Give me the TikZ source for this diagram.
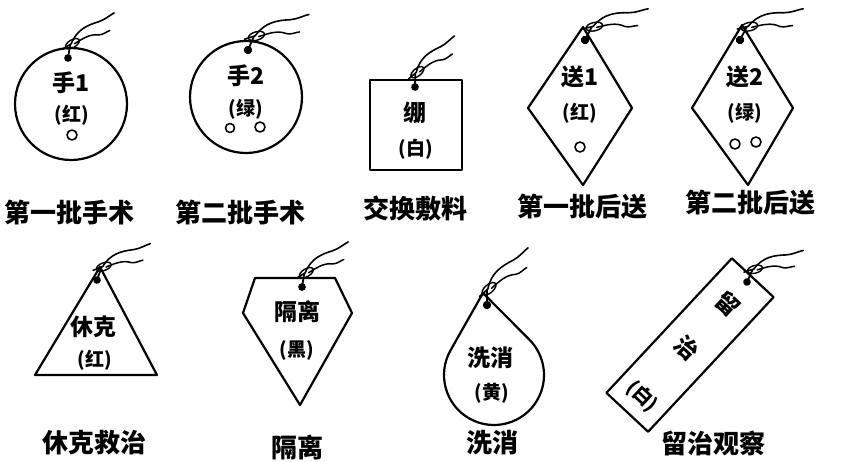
\documentclass[tikz,border=0pt]{standalone}
\usepackage{fontspec}
\newfontfamily\cjk{Noto Sans CJK SC}

\begin{document}
\begin{tikzpicture}[x=1pt,y=1pt,line join=round,line cap=round]
  \tikzset{tag/.style={line width=2.2pt},
    big/.style={font=\cjk\bfseries\fontsize{23}{23}\selectfont,inner sep=0pt},
    small/.style={font=\cjk\bfseries\fontsize{19}{19}\selectfont,inner sep=0pt},
    caption/.style={font=\cjk\bfseries\fontsize{26}{26}\selectfont,inner sep=0pt},
    hole/.style={line width=1.6pt},
    cord/.pic={
      \fill (0,0) circle[radius=3.5];
      \draw[line width=1.8pt] (0,0) -- (2,12);
      \draw[line width=1.4pt,rotate around={30:(4,13)}] (4,13) ellipse[x radius=7,y radius=3.5];
      \draw[line width=1.6pt] (-5,8) -- (3,13) .. controls (8,26) and (18,30) .. (28,33) .. controls (34,35) and (38,39) .. (42,41);
      \draw[line width=1.5pt] (6,13) .. controls (14,18) and (20,22) .. (28,21) .. controls (32,21) and (35,24) .. (38,25);
    }}
  \useasboundingbox (0,0) rectangle (846,-461);

  \draw[tag] (71,-104) circle[radius=56];
  \node[big] (shou1) at (71,-83) {手1};
  \node[small] (hong1) at (72,-115) {(红)};
  \draw[hole] (72,-135) circle[radius=5];
  \pic[scale=1.1] at (68,-58) {cord};
  \node[caption] (cap1) at (70,-212) {第一批手术};

  \draw[tag] (246,-97) circle[radius=56];
  \node[big] (shou2) at (246,-76) {手2};
  \node[small] (lv1) at (246,-109) {(绿)};
  \draw[hole] (230,-128) circle[radius=4.5] (260,-127) circle[radius=5];
  \pic[rotate=-14,scale=1.2] at (248,-50) {cord};
  \node[caption] (cap2) at (240,-212) {第二批手术};

  \draw[tag] (370,-80) rectangle (462,-170);
  \node[big] (beng) at (415,-113) {绷};
  \node[small] (bai1) at (416,-149) {(白)};
  \pic[rotate=8,scale=1.1] at (415,-87) {cord};
  \node[caption] (cap3) at (415,-209) {交换敷料};

  \draw[tag] (583,-27) -- (632,-108) -- (583,-185) -- (528,-108) -- cycle;
  \node[big] (song1) at (580,-77) {送1};
  \node[small] (hong2) at (580,-113) {(红)};
  \draw[hole] (580,-147) circle[radius=5];
  \pic[rotate=-18,scale=1.2] at (585,-40) {cord};
  \node[caption] (cap4) at (582,-207) {第一批后送};

  \draw[tag] (742,-25) -- (793,-108) -- (748,-185) -- (692,-108) -- cycle;
  \node[big] (song2) at (745,-77) {送2};
  \node[small] (lv2) at (745,-113) {(绿)};
  \draw[hole] (735,-144) circle[radius=5] (756,-142) circle[radius=5];
  \pic[rotate=-18,scale=1.2] at (740,-40) {cord};
  \node[caption] (cap5) at (750,-203) {第二批后送};

  \draw[tag] (100,-267) -- (157,-375) -- (35,-375) -- cycle;
  \node[big] (xiuke) at (93,-327) {休克};
  \node[small] (hong3) at (95,-360) {(红)};
  \pic[rotate=-10,scale=1.1] at (97,-280) {cord};
  \node[caption] (cap6) at (94,-443) {休克救治};

  \draw[tag] (255,-278) -- (335,-278) -- (352,-313) -- (300,-405) -- (243,-313) -- cycle;
  \node[big] (geli) at (297,-312) {隔离};
  \node[small] (hei) at (297,-350) {(黑)};
  \pic[scale=1.1] at (302,-287) {cord};
  \node[caption] (cap7) at (297,-447) {隔离};

  \draw[tag] (483,-293) -- ([shift={(150.4:50)}]494,-375) arc[start angle=150.4,end angle=404.8,radius=50] -- cycle;
  \node[big] (xixiao) at (490,-358) {洗消};
  \node[small] (huang) at (492,-393) {(黄)};
  \pic[rotate=10,scale=1.2] at (487,-305) {cord};
  \node[caption] (cap8) at (492,-443) {洗消};

  \begin{scope}[shift={(690,-345)},rotate=-43]
    \draw[tag] (-28.5,-92) rectangle (28.5,92);
    \node[big,transform shape] (liu) at (0,56) {留};
    \node[big,transform shape] (zhi) at (0,-4) {治};
    \node[small,transform shape] (bai2) at (0,-70) {(白)};
  \end{scope}
  \pic[rotate=-15,scale=1.1] at (747,-282) {cord};
  \node[caption] (cap9) at (713,-443) {留治观察};
\end{tikzpicture}
\end{document}
